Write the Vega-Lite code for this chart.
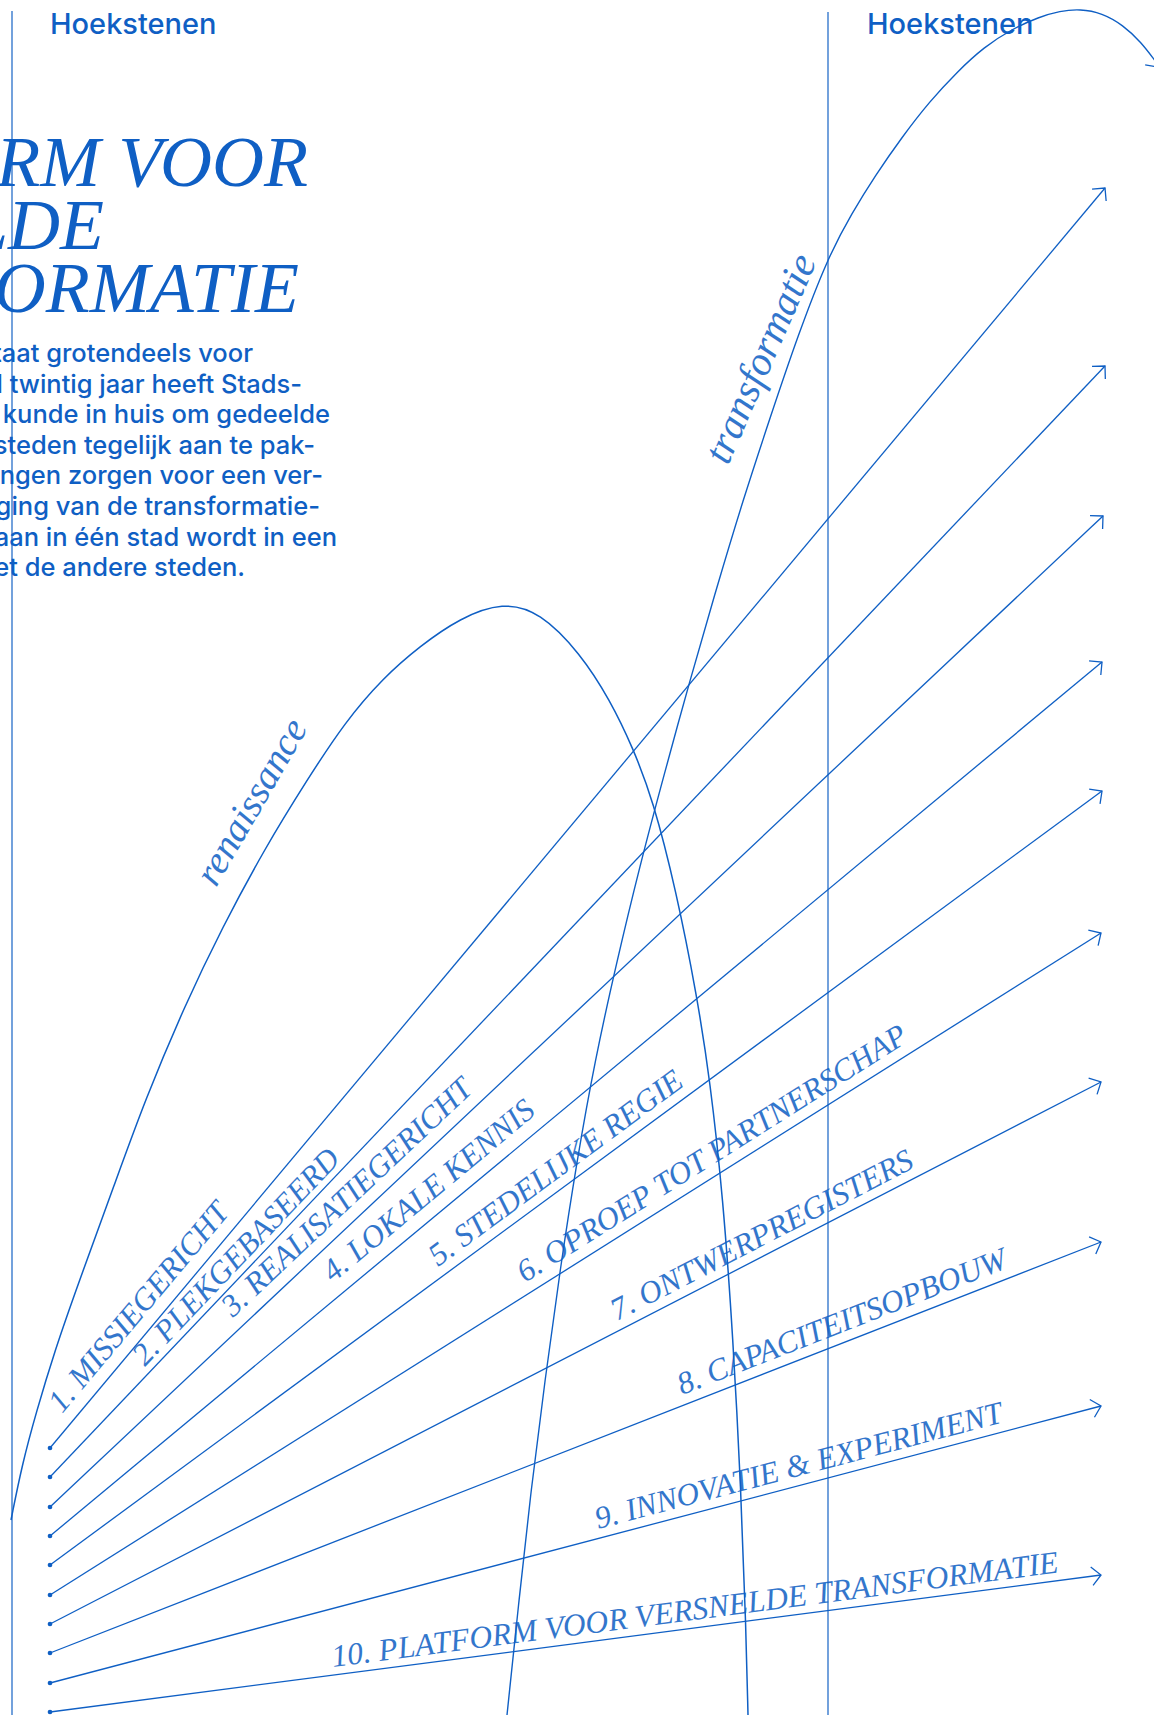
{
  "$schema": "https://vega.github.io/schema/vega-lite/v6.json",
  "width": 1154,
  "height": 1715,
  "padding": 0,
  "autosize": {"type": "none"},
  "background": "#ffffff",
  "config": {
    "view": {"stroke": null},
    "text": {"font": "Liberation Serif", "fontStyle": "italic", "color": "#0f5fc4", "align": "left", "baseline": "alphabetic"},
    "point": {"shape": "M -0.75 -0.75 L 0 0 L -0.75 0.75", "filled": false, "size": 600, "strokeWidth": 1.3, "color": "#0f5fc4", "opacity": 1},
    "rule": {"color": "#0f5fc4", "strokeWidth": 1.3},
    "line": {"color": "#0f5fc4", "strokeWidth": 1.5}
  },
  "datasets": {
    "verticals": [{"x": 12, "y1": 11, "y2": 1715}, {"x": 828, "y1": 12, "y2": 1715}],
    "headers": [{"t": "Hoekstenen", "x": 50, "y": 34}, {"t": "Hoekstenen", "x": 867, "y": 34}],
    "title": [{"t": "PLATFORM VOOR", "x": 308, "y": 186}, {"t": "VERSNELDE", "x": 104, "y": 249}, {"t": "TRANSFORMATIE", "x": 299, "y": 312}],
    "para": [
      {"t": "De aanpak staat grotendeels voor", "x": 253, "y": 362},
      {"t": "de deur. Al twintig jaar heeft Stads-", "x": 302, "y": 393},
      {"t": "regio kennis en kunde in huis om gedeelde", "x": 330, "y": 423},
      {"t": "opgaven van steden tegelijk aan te pak-", "x": 315, "y": 454},
      {"t": "ken. Verbindingen zorgen voor een ver-", "x": 323, "y": 484},
      {"t": "steviging van de transformatie-", "x": 320, "y": 515},
      {"t": "opgave. Wat is gedaan in één stad wordt in een", "x": 337, "y": 546},
      {"t": "handomdraai gedeeld met de andere steden.", "x": 245, "y": 576}
    ],
    "renaissance": [
      {"x": 11, "y": 1520}, {"x": 22, "y": 1465}, {"x": 36, "y": 1413}, {"x": 55, "y": 1350}, {"x": 77, "y": 1287},
      {"x": 115, "y": 1183}, {"x": 145, "y": 1100}, {"x": 185, "y": 1005}, {"x": 222, "y": 928}, {"x": 265, "y": 848},
      {"x": 307, "y": 780}, {"x": 345, "y": 722}, {"x": 383, "y": 678}, {"x": 420, "y": 646}, {"x": 460, "y": 618},
      {"x": 503, "y": 602}, {"x": 540, "y": 612}, {"x": 580, "y": 653}, {"x": 610, "y": 700}, {"x": 633, "y": 748},
      {"x": 653, "y": 800}, {"x": 676, "y": 890}, {"x": 697, "y": 996}, {"x": 710, "y": 1080}, {"x": 723, "y": 1197},
      {"x": 733, "y": 1337}, {"x": 741, "y": 1490}, {"x": 746, "y": 1630}, {"x": 748, "y": 1715}
    ],
    "transformatie": [
      {"x": 507, "y": 1715}, {"x": 519, "y": 1600}, {"x": 531, "y": 1490}, {"x": 545, "y": 1380}, {"x": 560, "y": 1270},
      {"x": 577, "y": 1160}, {"x": 595, "y": 1060}, {"x": 616, "y": 965}, {"x": 640, "y": 865}, {"x": 664, "y": 775},
      {"x": 690, "y": 680}, {"x": 716, "y": 590}, {"x": 743, "y": 500}, {"x": 770, "y": 418}, {"x": 798, "y": 335},
      {"x": 828, "y": 257}, {"x": 852, "y": 213}, {"x": 875, "y": 176}, {"x": 902, "y": 137}, {"x": 930, "y": 101},
      {"x": 957, "y": 72}, {"x": 984, "y": 47}, {"x": 1012, "y": 29}, {"x": 1039, "y": 17}, {"x": 1060, "y": 11},
      {"x": 1080, "y": 9}, {"x": 1102, "y": 13}, {"x": 1123, "y": 25}, {"x": 1141, "y": 42}, {"x": 1156, "y": 62}
    ],
    "transArrow": [{"x": 1158, "y": 67}],
    "fan": [
      {"n": 1, "label": "1. MISSIEGERICHT", "xs": 50, "ys": 1448, "xe": 1105, "ye": 188, "lx": 62, "ly": 1414},
      {"n": 2, "label": "2. PLEKGEBASEERD", "xs": 50, "ys": 1477, "xe": 1105, "ye": 366, "lx": 145, "ly": 1367},
      {"n": 3, "label": "3. REALISATIEGERICHT", "xs": 50, "ys": 1507, "xe": 1103, "ye": 516, "lx": 233, "ly": 1318},
      {"n": 4, "label": "4. LOKALE KENNIS", "xs": 50, "ys": 1536, "xe": 1102, "ye": 662, "lx": 333, "ly": 1283},
      {"n": 5, "label": "5. STEDELIJKE REGIE", "xs": 50, "ys": 1565, "xe": 1102, "ye": 791, "lx": 438, "ly": 1267},
      {"n": 6, "label": "6. OPROEP TOT PARTNERSCHAP", "xs": 50, "ys": 1595, "xe": 1101, "ye": 933, "lx": 525, "ly": 1283},
      {"n": 7, "label": "7. ONTWERPREGISTERS", "xs": 50, "ys": 1624, "xe": 1101, "ye": 1082, "lx": 617, "ly": 1321},
      {"n": 8, "label": "8. CAPACITEITSOPBOUW", "xs": 50, "ys": 1653, "xe": 1101, "ye": 1242, "lx": 682, "ly": 1395},
      {"n": 9, "label": "9. INNOVATIE & EXPERIMENT", "xs": 50, "ys": 1683, "xe": 1101, "ye": 1406, "lx": 598, "ly": 1529},
      {"n": 10, "label": "10. PLATFORM VOOR VERSNELDE TRANSFORMATIE", "xs": 50, "ys": 1712, "xe": 1101, "ye": 1575, "lx": 333, "ly": 1667}
    ],
    "arcLabels": [{"t": "renaissance", "x": 216, "y": 888}, {"t": "transformatie", "x": 728, "y": 466}]
  },
  "layer": [
    {
      "data": {"name": "verticals"},
      "mark": {"type": "rule", "strokeWidth": 1.3, "opacity": 0.9},
      "encoding": {
        "x": {"field": "x", "type": "quantitative", "scale": {"domain": [0, 1154], "nice": false, "zero": false}, "axis": null},
        "y": {"field": "y1", "type": "quantitative", "scale": {"domain": [0, 1715], "nice": false, "zero": false, "reverse": true}, "axis": null},
        "y2": {"field": "y2"}
      }
    },
    {
      "data": {"name": "headers"},
      "mark": {"type": "text", "font": "Inter", "fontStyle": "normal", "fontWeight": 500, "fontSize": 29},
      "encoding": {
        "x": {"field": "x", "type": "quantitative", "scale": {"domain": [0, 1154], "nice": false, "zero": false}, "axis": null},
        "y": {"field": "y", "type": "quantitative", "scale": {"domain": [0, 1715], "nice": false, "zero": false, "reverse": true}, "axis": null},
        "text": {"field": "t"}
      }
    },
    {
      "data": {"name": "title"},
      "mark": {"type": "text", "fontSize": 72, "align": "right"},
      "encoding": {
        "x": {"field": "x", "type": "quantitative", "scale": {"domain": [0, 1154], "nice": false, "zero": false}, "axis": null},
        "y": {"field": "y", "type": "quantitative", "scale": {"domain": [0, 1715], "nice": false, "zero": false, "reverse": true}, "axis": null},
        "text": {"field": "t"}
      }
    },
    {
      "data": {"name": "para"},
      "mark": {"type": "text", "font": "Inter", "fontStyle": "normal", "fontWeight": 500, "fontSize": 25.5, "align": "right"},
      "encoding": {
        "x": {"field": "x", "type": "quantitative", "scale": {"domain": [0, 1154], "nice": false, "zero": false}, "axis": null},
        "y": {"field": "y", "type": "quantitative", "scale": {"domain": [0, 1715], "nice": false, "zero": false, "reverse": true}, "axis": null},
        "text": {"field": "t"}
      }
    },
    {
      "data": {"name": "renaissance"},
      "mark": {"type": "line", "interpolate": "basis", "strokeWidth": 1.5},
      "encoding": {
        "x": {"field": "x", "type": "quantitative", "scale": {"domain": [0, 1154], "nice": false, "zero": false}, "axis": null},
        "y": {"field": "y", "type": "quantitative", "scale": {"domain": [0, 1715], "nice": false, "zero": false, "reverse": true}, "axis": null}
      }
    },
    {
      "data": {"name": "transformatie"},
      "mark": {"type": "line", "interpolate": "basis", "strokeWidth": 1.4},
      "encoding": {
        "x": {"field": "x", "type": "quantitative", "scale": {"domain": [0, 1154], "nice": false, "zero": false}, "axis": null},
        "y": {"field": "y", "type": "quantitative", "scale": {"domain": [0, 1715], "nice": false, "zero": false, "reverse": true}, "axis": null}
      }
    },
    {
      "data": {"name": "transArrow"},
      "mark": {"type": "point", "angle": 54},
      "encoding": {
        "x": {"field": "x", "type": "quantitative", "scale": {"domain": [0, 1154], "nice": false, "zero": false}, "axis": null},
        "y": {"field": "y", "type": "quantitative", "scale": {"domain": [0, 1715], "nice": false, "zero": false, "reverse": true}, "axis": null}
      }
    },
    {
      "data": {"name": "fan"},
      "mark": {"type": "rule", "strokeWidth": 1.3},
      "encoding": {
        "x": {"field": "xs", "type": "quantitative", "scale": {"domain": [0, 1154], "nice": false, "zero": false}, "axis": null},
        "y": {"field": "ys", "type": "quantitative", "scale": {"domain": [0, 1715], "nice": false, "zero": false, "reverse": true}, "axis": null},
        "x2": {"field": "xe"},
        "y2": {"field": "ye"}
      }
    },
    {
      "data": {"name": "fan"},
      "mark": {"type": "point", "shape": "circle", "filled": true, "size": 22, "strokeWidth": 0},
      "encoding": {
        "x": {"field": "xs", "type": "quantitative", "scale": {"domain": [0, 1154], "nice": false, "zero": false}, "axis": null},
        "y": {"field": "ys", "type": "quantitative", "scale": {"domain": [0, 1715], "nice": false, "zero": false, "reverse": true}, "axis": null}
      }
    },
    {"data": {"name": "fan"}, "transform": [{"filter": "datum.n == 1"}], "layer": [
      {"mark": {"type": "text", "angle": 309.94, "fontSize": 31.5, "opacity": 0.85}, "encoding": {"x": {"field": "lx", "type": "quantitative", "scale": {"domain": [0, 1154], "nice": false, "zero": false}, "axis": null}, "y": {"field": "ly", "type": "quantitative", "scale": {"domain": [0, 1715], "nice": false, "zero": false, "reverse": true}, "axis": null}, "text": {"field": "label"}}},
      {"mark": {"type": "point", "angle": 309.94}, "encoding": {"x": {"field": "xe", "type": "quantitative", "scale": {"domain": [0, 1154], "nice": false, "zero": false}, "axis": null}, "y": {"field": "ye", "type": "quantitative", "scale": {"domain": [0, 1715], "nice": false, "zero": false, "reverse": true}, "axis": null}}}
    ]},
    {"data": {"name": "fan"}, "transform": [{"filter": "datum.n == 2"}], "layer": [
      {"mark": {"type": "text", "angle": 313.52, "fontSize": 31.5, "opacity": 0.85}, "encoding": {"x": {"field": "lx", "type": "quantitative", "scale": {"domain": [0, 1154], "nice": false, "zero": false}, "axis": null}, "y": {"field": "ly", "type": "quantitative", "scale": {"domain": [0, 1715], "nice": false, "zero": false, "reverse": true}, "axis": null}, "text": {"field": "label"}}},
      {"mark": {"type": "point", "angle": 313.52}, "encoding": {"x": {"field": "xe", "type": "quantitative", "scale": {"domain": [0, 1154], "nice": false, "zero": false}, "axis": null}, "y": {"field": "ye", "type": "quantitative", "scale": {"domain": [0, 1715], "nice": false, "zero": false, "reverse": true}, "axis": null}}}
    ]},
    {"data": {"name": "fan"}, "transform": [{"filter": "datum.n == 3"}], "layer": [
      {"mark": {"type": "text", "angle": 316.74, "fontSize": 31.5, "opacity": 0.85}, "encoding": {"x": {"field": "lx", "type": "quantitative", "scale": {"domain": [0, 1154], "nice": false, "zero": false}, "axis": null}, "y": {"field": "ly", "type": "quantitative", "scale": {"domain": [0, 1715], "nice": false, "zero": false, "reverse": true}, "axis": null}, "text": {"field": "label"}}},
      {"mark": {"type": "point", "angle": 316.74}, "encoding": {"x": {"field": "xe", "type": "quantitative", "scale": {"domain": [0, 1154], "nice": false, "zero": false}, "axis": null}, "y": {"field": "ye", "type": "quantitative", "scale": {"domain": [0, 1715], "nice": false, "zero": false, "reverse": true}, "axis": null}}}
    ]},
    {"data": {"name": "fan"}, "transform": [{"filter": "datum.n == 4"}], "layer": [
      {"mark": {"type": "text", "angle": 320.28, "fontSize": 31.5, "opacity": 0.85}, "encoding": {"x": {"field": "lx", "type": "quantitative", "scale": {"domain": [0, 1154], "nice": false, "zero": false}, "axis": null}, "y": {"field": "ly", "type": "quantitative", "scale": {"domain": [0, 1715], "nice": false, "zero": false, "reverse": true}, "axis": null}, "text": {"field": "label"}}},
      {"mark": {"type": "point", "angle": 320.28}, "encoding": {"x": {"field": "xe", "type": "quantitative", "scale": {"domain": [0, 1154], "nice": false, "zero": false}, "axis": null}, "y": {"field": "ye", "type": "quantitative", "scale": {"domain": [0, 1715], "nice": false, "zero": false, "reverse": true}, "axis": null}}}
    ]},
    {"data": {"name": "fan"}, "transform": [{"filter": "datum.n == 5"}], "layer": [
      {"mark": {"type": "text", "angle": 323.65, "fontSize": 31.5, "opacity": 0.85}, "encoding": {"x": {"field": "lx", "type": "quantitative", "scale": {"domain": [0, 1154], "nice": false, "zero": false}, "axis": null}, "y": {"field": "ly", "type": "quantitative", "scale": {"domain": [0, 1715], "nice": false, "zero": false, "reverse": true}, "axis": null}, "text": {"field": "label"}}},
      {"mark": {"type": "point", "angle": 323.65}, "encoding": {"x": {"field": "xe", "type": "quantitative", "scale": {"domain": [0, 1154], "nice": false, "zero": false}, "axis": null}, "y": {"field": "ye", "type": "quantitative", "scale": {"domain": [0, 1715], "nice": false, "zero": false, "reverse": true}, "axis": null}}}
    ]},
    {"data": {"name": "fan"}, "transform": [{"filter": "datum.n == 6"}], "layer": [
      {"mark": {"type": "text", "angle": 327.8, "fontSize": 31.5, "opacity": 0.85}, "encoding": {"x": {"field": "lx", "type": "quantitative", "scale": {"domain": [0, 1154], "nice": false, "zero": false}, "axis": null}, "y": {"field": "ly", "type": "quantitative", "scale": {"domain": [0, 1715], "nice": false, "zero": false, "reverse": true}, "axis": null}, "text": {"field": "label"}}},
      {"mark": {"type": "point", "angle": 327.8}, "encoding": {"x": {"field": "xe", "type": "quantitative", "scale": {"domain": [0, 1154], "nice": false, "zero": false}, "axis": null}, "y": {"field": "ye", "type": "quantitative", "scale": {"domain": [0, 1715], "nice": false, "zero": false, "reverse": true}, "axis": null}}}
    ]},
    {"data": {"name": "fan"}, "transform": [{"filter": "datum.n == 7"}], "layer": [
      {"mark": {"type": "text", "angle": 332.72, "fontSize": 31.5, "opacity": 0.85}, "encoding": {"x": {"field": "lx", "type": "quantitative", "scale": {"domain": [0, 1154], "nice": false, "zero": false}, "axis": null}, "y": {"field": "ly", "type": "quantitative", "scale": {"domain": [0, 1715], "nice": false, "zero": false, "reverse": true}, "axis": null}, "text": {"field": "label"}}},
      {"mark": {"type": "point", "angle": 332.72}, "encoding": {"x": {"field": "xe", "type": "quantitative", "scale": {"domain": [0, 1154], "nice": false, "zero": false}, "axis": null}, "y": {"field": "ye", "type": "quantitative", "scale": {"domain": [0, 1715], "nice": false, "zero": false, "reverse": true}, "axis": null}}}
    ]},
    {"data": {"name": "fan"}, "transform": [{"filter": "datum.n == 8"}], "layer": [
      {"mark": {"type": "text", "angle": 338.64, "fontSize": 31.5, "opacity": 0.85}, "encoding": {"x": {"field": "lx", "type": "quantitative", "scale": {"domain": [0, 1154], "nice": false, "zero": false}, "axis": null}, "y": {"field": "ly", "type": "quantitative", "scale": {"domain": [0, 1715], "nice": false, "zero": false, "reverse": true}, "axis": null}, "text": {"field": "label"}}},
      {"mark": {"type": "point", "angle": 338.64}, "encoding": {"x": {"field": "xe", "type": "quantitative", "scale": {"domain": [0, 1154], "nice": false, "zero": false}, "axis": null}, "y": {"field": "ye", "type": "quantitative", "scale": {"domain": [0, 1715], "nice": false, "zero": false, "reverse": true}, "axis": null}}}
    ]},
    {"data": {"name": "fan"}, "transform": [{"filter": "datum.n == 9"}], "layer": [
      {"mark": {"type": "text", "angle": 345.23, "fontSize": 31.5, "opacity": 0.85}, "encoding": {"x": {"field": "lx", "type": "quantitative", "scale": {"domain": [0, 1154], "nice": false, "zero": false}, "axis": null}, "y": {"field": "ly", "type": "quantitative", "scale": {"domain": [0, 1715], "nice": false, "zero": false, "reverse": true}, "axis": null}, "text": {"field": "label"}}},
      {"mark": {"type": "point", "angle": 345.23}, "encoding": {"x": {"field": "xe", "type": "quantitative", "scale": {"domain": [0, 1154], "nice": false, "zero": false}, "axis": null}, "y": {"field": "ye", "type": "quantitative", "scale": {"domain": [0, 1715], "nice": false, "zero": false, "reverse": true}, "axis": null}}}
    ]},
    {"data": {"name": "fan"}, "transform": [{"filter": "datum.n == 10"}], "layer": [
      {"mark": {"type": "text", "angle": 352.57, "fontSize": 31.5, "opacity": 0.85}, "encoding": {"x": {"field": "lx", "type": "quantitative", "scale": {"domain": [0, 1154], "nice": false, "zero": false}, "axis": null}, "y": {"field": "ly", "type": "quantitative", "scale": {"domain": [0, 1715], "nice": false, "zero": false, "reverse": true}, "axis": null}, "text": {"field": "label"}}},
      {"mark": {"type": "point", "angle": 352.57}, "encoding": {"x": {"field": "xe", "type": "quantitative", "scale": {"domain": [0, 1154], "nice": false, "zero": false}, "axis": null}, "y": {"field": "ye", "type": "quantitative", "scale": {"domain": [0, 1715], "nice": false, "zero": false, "reverse": true}, "axis": null}}}
    ]},
    {"data": {"name": "arcLabels"}, "transform": [{"filter": "datum.t == 'renaissance'"}],
      "mark": {"type": "text", "angle": 300, "fontSize": 39, "opacity": 0.85},
      "encoding": {"x": {"field": "x", "type": "quantitative", "scale": {"domain": [0, 1154], "nice": false, "zero": false}, "axis": null}, "y": {"field": "y", "type": "quantitative", "scale": {"domain": [0, 1715], "nice": false, "zero": false, "reverse": true}, "axis": null}, "text": {"field": "t"}}
    },
    {"data": {"name": "arcLabels"}, "transform": [{"filter": "datum.t == 'transformatie'"}],
      "mark": {"type": "text", "angle": 293.5, "fontSize": 41, "opacity": 0.85},
      "encoding": {"x": {"field": "x", "type": "quantitative", "scale": {"domain": [0, 1154], "nice": false, "zero": false}, "axis": null}, "y": {"field": "y", "type": "quantitative", "scale": {"domain": [0, 1715], "nice": false, "zero": false, "reverse": true}, "axis": null}, "text": {"field": "t"}}
    }
  ]
}
